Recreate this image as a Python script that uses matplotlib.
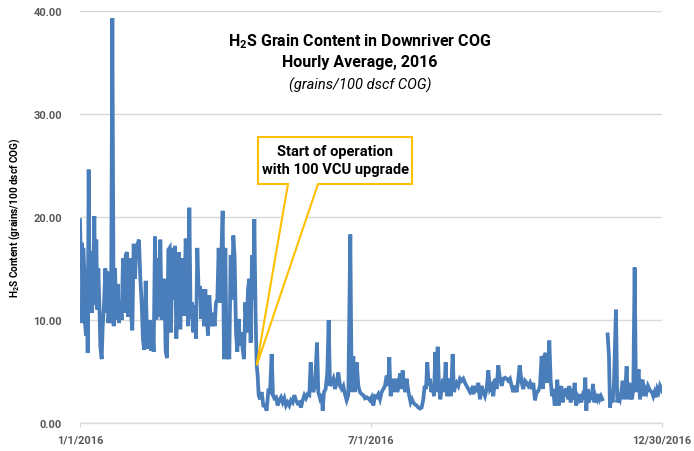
import numpy as np
import pandas as pd
import matplotlib
matplotlib.use('Agg')
import matplotlib.pyplot as plt
import matplotlib.dates as mdates
from matplotlib.patches import Polygon

plt.rcParams['font.family'] = ['Roboto', 'DejaVu Sans']
plt.rcParams['mathtext.default'] = 'regular'

LINE = '#4a7ebb'
GRID = '#d9d9d9'
TICK = '#595959'
CALLOUT = '#ffc000'

# hourly H2S grain content (day of year from 1/1/2016, grains/100 dscf)
day = [
    0.0, 0.63, 1.04, 1.46, 2.08, 2.71, 3.13, 3.75, 4.38, 4.79, 5.42, 6.05, 6.88, 7.5, 8.34,
    8.97, 9.6, 10.2, 10.84, 11.47, 12.1, 12.72, 13.55, 14.18, 15.01, 15.85, 16.47, 17.1, 17.72,
    18.56, 19.39, 20.23, 21.06, 21.89, 22.73, 23.56, 24.4, 25.23, 26.06, 26.9, 27.73, 28.56,
    29.4, 30.23, 31.06, 31.9, 32.73, 33.56, 34.4, 35.23, 36.06, 36.9, 37.73, 38.57, 39.4, 40.23,
    41.07, 41.9, 42.73, 43.57, 44.4, 45.24, 46.07, 46.9, 47.74, 48.57, 49.4, 50.24, 51.07, 51.9,
    52.74, 53.57, 54.4, 55.24, 56.07,
    56.9, 57.75, 58.58, 59.41, 60.24, 61.08, 61.91, 62.75, 63.58, 64.42, 65.25, 66.08, 66.92,
    67.75, 68.38, 69.21, 70.04, 70.88, 71.71, 72.55, 73.38, 74.21, 75.05, 75.88, 76.72, 77.55,
    78.38, 79.22, 80.05, 80.88, 81.72, 82.55, 83.39, 84.22, 85.05, 85.89, 86.72, 87.55, 88.39,
    89.22, 90.06, 90.89, 91.72, 92.56, 93.39, 94.23, 95.06, 95.89, 96.73, 97.56, 98.39, 99.23,
    100.06, 100.9, 101.73, 102.56, 103.4, 104.23, 105.07, 105.9, 106.73, 107.57, 108.4, 109.03,
    109.86, 110.49, 111.11, 111.74, 112.57, 113.61, 114.65,
    115.7, 116.74, 117.78, 118.82, 119.87, 120.7, 121.53, 122.58, 123.62, 124.66, 125.7, 126.75,
    127.79, 128.83, 129.87, 130.91, 131.96, 133.0, 134.04, 135.08, 136.13, 137.17, 138.21,
    139.25, 140.3, 141.34, 142.38, 143.42, 144.26, 145.09, 145.93, 146.97, 148.22, 149.05,
    150.09, 151.14, 151.76, 152.6, 153.64, 154.68, 155.51, 156.35, 157.39, 158.43, 159.47,
    160.51, 161.56, 162.6, 163.64, 164.69, 165.73, 166.77, 167.81, 169.06, 169.9, 170.94,
    171.98, 173.03, 174.07, 175.11, 176.15, 177.2, 178.24, 179.28, 180.32, 181.36, 182.41, 183.45,
    184.49, 185.53, 186.57, 187.62, 188.66, 189.7, 190.74, 191.79, 192.83, 193.45, 194.29,
    195.12, 195.96, 196.79, 197.62, 198.46, 199.29, 200.13, 200.96, 201.79, 202.63, 203.46,
    204.3, 205.13, 205.96, 206.8, 207.63, 208.46, 209.51, 210.55, 211.59, 212.63, 213.68,
    214.72, 215.55, 216.39, 217.22, 218.06, 218.89, 219.72, 220.56, 221.39, 222.22, 223.06,
    223.68, 224.52, 225.35, 226.18, 227.02, 227.85, 228.69, 229.52, 230.35, 231.19, 232.02,
    233.06, 233.9, 234.73, 235.56, 236.61, 237.65, 238.69, 239.73, 240.78, 241.82, 242.86,
    243.9, 244.95, 245.99, 247.03, 248.07, 249.11, 250.16, 251.2, 252.24, 253.28, 254.33,
    255.37, 256.41, 257.45, 258.49, 259.54, 260.58, 261.62, 262.66, 263.71, 264.75, 265.79,
    266.83, 267.87, 268.92, 269.96, 271.0, 272.05, 273.09, 274.13, 274.96,
    276.21, 277.25, 278.3, 279.34, 280.38, 281.43, 282.47, 283.51, 284.55, 285.6, 286.64,
    287.68, 288.72, 289.56, 290.39, 291.23, 292.06, 292.68, 293.52, 294.35, 295.18, 296.02,
    296.85, 297.69, 298.52, 299.35, 300.19, 301.02, 301.85, 302.69, 303.52, 304.36, 305.19,
    306.02, 306.86, 307.69, 308.53, 309.36, 310.19, 311.03, 311.86, 312.7, 313.53, 314.36,
    315.2, 316.03, 316.66, 317.49, 318.32, 319.16, 319.99, 320.83, 321.66, 322.49, 323.33,
    324.16, 325.0, 325.83, 326.66, 328.3,
    330.0, 330.83, 331.46, 332.29, 333.13, 333.96, 335.21, 336.04, 336.88, 337.71, 338.54,
    339.38, 340.21, 341.05, 341.88, 342.71, 343.55, 344.38, 345.22, 346.05, 346.88, 347.72,
    348.55, 349.38, 350.22, 351.05, 351.89, 352.72, 353.55, 354.39, 355.22, 356.06, 356.89,
    357.72, 358.56, 359.39, 360.23, 361.06, 361.89, 362.73, 363.56, 364.4,
]
h2s = [
    19.7, 15.0, 17.5, 9.7, 17.0, 14.8, 9.7, 8.5, 15.0, 6.8, 24.6, 11.0, 16.7, 10.7, 14.7,
    20.1, 11.5, 17.8, 11.0, 15.0, 11.5, 7.4, 6.2, 9.3, 11.6, 15.0, 10.7, 14.7, 9.7,
    11.9, 9.7, 39.3, 9.4, 15.0, 10.0, 13.5, 9.7, 11.6, 10.0, 16.0, 10.7, 16.3,
    16.6, 10.3, 16.0, 10.7, 9.0, 17.4, 14.0, 17.0, 17.4, 17.8, 14.0, 11.6, 8.0, 7.1,
    13.8, 8.5, 7.2, 10.0, 7.0, 9.7, 6.9, 18.1, 10.0, 16.0, 10.3, 17.8, 10.0, 12.6,
    14.0, 7.0, 6.3, 16.8, 17.0,
    8.8, 17.0, 12.0, 17.2, 8.2, 12.7, 16.6, 9.1, 16.0, 11.7, 10.4, 17.9, 14.6,
    9.4, 20.9, 10.1, 11.7, 8.8, 11.4, 8.2, 17.0, 12.7, 13.3, 10.1, 13.0, 9.4,
    13.0, 10.4, 8.5, 12.4, 10.1, 9.4, 10.7, 9.4, 11.7, 12.0, 17.0, 11.7, 16.3,
    20.6, 6.2, 17.0, 6.2, 7.5, 6.2, 16.3, 12.0, 18.2, 16.0, 8.8, 6.9, 10.1,
    7.5, 8.8, 7.2, 6.2, 11.7, 8.8, 13.0, 14.0, 7.8, 16.3, 12.0, 19.8,
    10.1, 5.6, 4.6, 2.7, 2.3, 3.0, 1.7,
    1.7, 1.2, 3.1, 3.0, 6.7, 2.7, 2.4, 2.5, 1.7, 2.2, 2.5, 2.0,
    2.4, 1.7, 2.0, 1.7, 2.2, 2.0, 2.7, 2.2, 1.9, 2.0, 1.5,
    2.2, 2.7, 2.4, 2.8, 2.7, 5.9, 3.6, 3.0, 3.6, 7.8, 3.0,
    2.4, 2.8, 1.2, 3.0, 3.3, 4.9, 10.0, 3.6, 3.9, 4.3, 3.3,
    3.9, 4.9, 3.6, 3.3, 3.6, 2.8, 2.2, 2.7, 18.3, 3.0, 6.5,
    3.0, 5.9, 3.6, 3.0, 2.8, 2.7, 2.4, 2.5, 2.4, 2.2, 2.5, 1.7,
    2.6, 2.5, 2.8, 2.3, 3.0, 3.3, 3.6, 4.6, 3.6, 6.4, 2.6,
    4.3, 3.0, 3.6, 4.3, 3.0, 3.6, 4.8, 3.3, 5.1, 3.6, 3.0,
    4.3, 3.3, 2.6, 2.0, 2.3, 2.0, 1.8, 1.7, 1.5, 1.4, 1.5,
    2.3, 3.6, 3.3, 5.9, 3.6, 4.3, 3.0, 3.6, 2.6, 6.9, 3.0,
    7.4, 3.6, 2.3, 3.3, 4.3, 3.0, 5.9, 2.6, 3.3, 4.3, 2.6,
    6.7, 3.0, 3.6, 3.9, 3.6, 4.3, 4.1, 4.3, 3.9, 3.6, 3.3,
    3.0, 3.3, 2.8, 3.6, 3.0, 3.9, 2.3, 3.6, 3.0, 2.6, 3.3,
    5.1, 3.3, 3.6, 2.6, 4.3, 3.3, 5.6, 4.3, 3.6, 4.3, 4.4,
    4.3, 4.1, 4.3, 3.6, 3.0, 3.6, 3.0, 4.3, 5.6,
    3.9, 3.3, 4.1, 3.9, 3.6, 3.9, 3.3, 3.9, 2.2, 3.0, 3.1,
    3.6, 6.5, 3.3, 6.5, 6.8, 3.9, 4.9, 8.0, 4.2, 2.6, 3.3,
    1.7, 2.3, 4.2, 1.7, 2.6, 3.6, 2.0, 3.3, 2.6, 3.4, 2.3,
    3.6, 2.0, 3.3, 2.3, 3.9, 1.7, 2.6, 2.3, 2.8, 2.0, 2.6,
    2.3, 4.4, 1.2, 3.3, 2.0, 2.6, 2.3, 3.8, 2.0, 2.6, 2.3,
    2.8, 2.3, 2.6, 2.3, np.nan,
    8.6, 6.5, 1.5, 2.6, 2.0, 3.9, 11.0, 2.0, 2.6, 2.3, 3.0,
    4.1, 2.3, 3.3, 5.5, 2.3, 3.9, 2.6, 2.3, 3.3, 15.1, 3.0,
    3.9, 5.2, 2.3, 3.9, 4.2, 2.6, 3.3, 3.0, 3.6, 3.3, 3.1,
    3.0, 2.6, 3.0, 2.5, 3.3, 3.0, 3.6, 3.3, 3.0,
]

Y_TICKS = [0, 10, 20, 30, 40]
X_TICKS = ['2016-01-01', '2016-07-01', '2016-12-30']
START_DAY = 110.49  # start of operation with 100 VCU upgrade
START_VALUE = 5.6

t0 = pd.Timestamp('2016-01-01')
times = t0 + pd.to_timedelta(day, unit='D')

fig = plt.figure(figsize=(6.94, 4.52), dpi=100, facecolor='white')
ax = fig.add_axes([80 / 694, 28 / 452, 582 / 694, 412 / 452])

ax.plot(times, h2s, color=LINE, lw=2.7, solid_joinstyle='miter', zorder=3)

ax.set_xlim(pd.Timestamp(X_TICKS[0]), pd.Timestamp(X_TICKS[-1]))
ax.set_ylim(0, 40)
ax.set_yticks(Y_TICKS)
ax.set_yticklabels([f'{v:.2f}' for v in Y_TICKS])
ax.set_xticks([pd.Timestamp(d) for d in X_TICKS])
ax.set_xticklabels([f'{pd.Timestamp(d).month}/{pd.Timestamp(d).day}/{pd.Timestamp(d).year}' for d in X_TICKS])

ax.grid(axis='y', color=GRID, lw=1.0)
ax.set_axisbelow(True)
for side in ['top', 'right', 'left']:
    ax.spines[side].set_visible(False)
ax.spines['bottom'].set_color(GRID)
ax.spines['bottom'].set_linewidth(1.0)
ax.tick_params(axis='y', length=0, pad=13, labelsize=8, labelcolor=TICK)
ax.tick_params(axis='x', length=3, color=GRID, pad=5, labelsize=8, labelcolor=TICK)
for lab in ax.get_xticklabels() + ax.get_yticklabels():
    lab.set_fontweight('bold')

ax.set_ylabel('H$_2$S Content (grains/100 dscf COG)', fontsize=7.2, fontweight='bold', labelpad=8)

fig.text(360 / 694, 1 - 42 / 452, 'H$_2$S Grain Content in Downriver COG', ha='center', va='center',
         fontsize=11.5, fontweight='bold')
fig.text(360 / 694, 1 - 63 / 452, 'Hourly Average, 2016', ha='center', va='center',
         fontsize=11.5, fontweight='bold')
fig.text(360 / 694, 1 - 85 / 452, '(grains/100 dscf COG)', ha='center', va='center',
         fontsize=10.5, style='italic')

# callout box with pointer to the start of the upgrade
fig.canvas.draw()
tip = ax.transAxes.inverted().transform(
    ax.transData.transform((mdates.date2num(t0 + pd.Timedelta(days=START_DAY)), START_VALUE)))


def axfrac(px, py):
    return ((px - 80) / 582, (424 - py) / 412)


verts = [axfrac(258, 138), axfrac(412, 138), axfrac(412, 185), axfrac(318, 185),
         tuple(tip), axfrac(288, 185), axfrac(258, 185)]
ax.add_patch(Polygon(verts, closed=True, transform=ax.transAxes, facecolor='white',
                     edgecolor=CALLOUT, lw=1.5, zorder=5, clip_on=False))
cx, cy = axfrac(335, 161)
ax.text(cx, cy, 'Start of operation\nwith 100 VCU upgrade', transform=ax.transAxes,
        ha='center', va='center', fontsize=10.5, fontweight='bold', linespacing=1.3, zorder=6)

fig.savefig('out.png', dpi=100)
